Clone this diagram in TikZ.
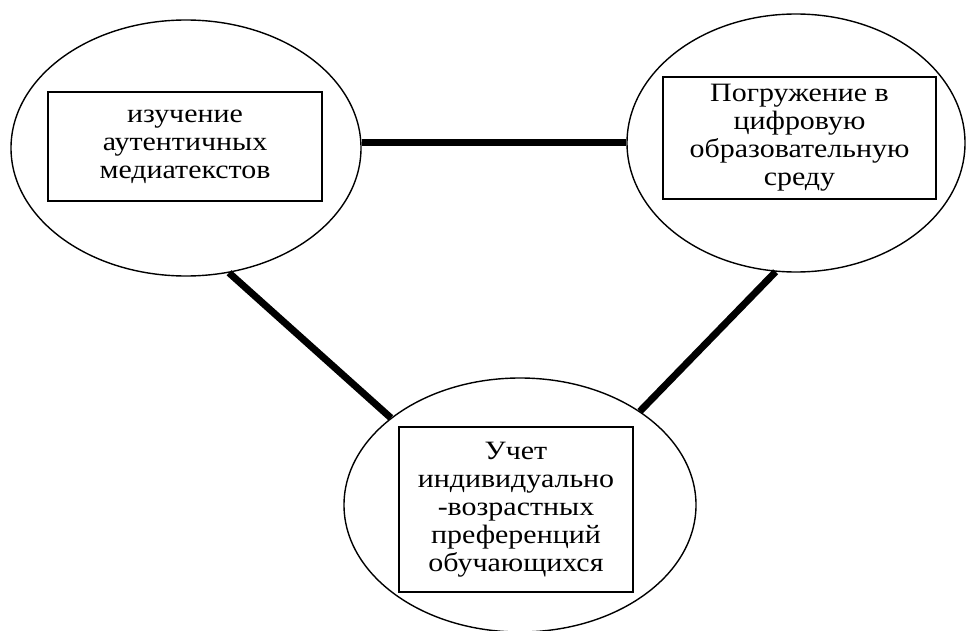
\documentclass[tikz,border=0pt]{standalone}
\usepackage{fontspec}
\setmainfont{Liberation Serif}
\newfontfamily\boxfont[FakeStretch=1.13]{Liberation Serif}
\usetikzlibrary{shapes.geometric}
\begin{document}
\begin{tikzpicture}[x=1pt,y=-1pt,
  oval/.style={draw, ellipse, line width=1.4pt, inner sep=0pt},
  textbox/.style={draw, line width=1.1pt, inner sep=0pt, align=center,
    font=\boxfont\fontsize{26.5}{28}\selectfont},
  link/.style={line width=7pt}]
\fill[white] (0,0) rectangle (966,631);
\useasboundingbox (0,0) rectangle (966,631);
% ellipses
\node[oval, minimum width=350pt, minimum height=256pt] (L) at (186,148) {};
\node[oval, minimum width=338pt, minimum height=258pt] (R) at (796,143) {};
\node[oval, minimum width=352pt, minimum height=254pt] (B) at (520,505) {};
% connectors
\draw[link] (L.east |- R.west) -- (R.west);
\draw[link] (L.-71) -- (B.146);
\draw[link] (R.-99) -- (B.38);
% text boxes
\node[textbox, minimum width=274pt, minimum height=109pt] (Lt) at (185,146.5)
  {изучение\\аутентичных\\медиатекстов};
\node[textbox, minimum width=273pt, minimum height=122pt] (Rt) at (799.5,138)
  {Погружение в\\цифровую\\образовательную\\среду};
\node[textbox, minimum width=234pt, minimum height=165pt] (Bt) at (516,509.5)
  {Учет\\индивидуально\\-возрастных\\преференций\\обучающихся};
\end{tikzpicture}
\end{document}
